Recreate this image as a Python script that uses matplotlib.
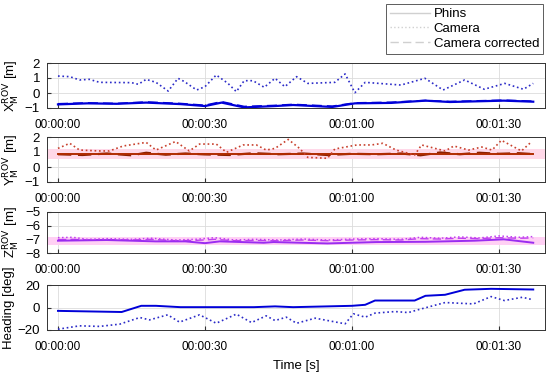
import numpy as np
import matplotlib
matplotlib.use('Agg')
import matplotlib.pyplot as plt
from matplotlib.ticker import FuncFormatter
from matplotlib.lines import Line2D

plt.rcParams['font.family'] = ['Liberation Sans', 'DejaVu Sans']
plt.rcParams['font.size'] = 9

# --- X panel ---
x_phins_t = [0, 6, 12, 18, 25, 30, 33.4, 38, 44.3, 48, 56, 60.6, 68, 75, 80, 91, 97]
x_phins_v = [-0.76, -0.69, -0.72, -0.64, -0.74, -0.87, -0.64, -0.96, -0.87, -0.8, -0.93, -0.69, -0.66, -0.51, -0.6, -0.51, -0.58]
x_cam_t = [0, 2.4, 4.4, 6.4, 8.5, 15, 16.4, 18, 20, 22.5, 24.5, 25.8, 28.3, 30, 32.3, 34.7, 36.4, 38,
           39.8, 42.1, 44.3, 46.3, 48.7, 51, 56.5, 58.6, 60.6, 62.7, 70, 74.9, 78.6, 83, 87, 91.2, 95, 97]
x_cam_v = [1.13, 1.09, 0.87, 0.91, 0.71, 0.69, 0.58, 0.91, 0.71, 0.13, 0.98, 0.76, 0.2, 0.42, 1.2, 0.64, 0.09, 0.82,
           0.82, 0.38, 0.98, 0.42, 1.09, 0.64, 0.71, 1.27, 0.02, 0.71, 0.53, 0.98, 0.2, 0.87, 0.25, 0.64, 0.25, 0.64]
x_corr_v = [-0.72, -0.66, -0.7, -0.6, -0.7, -0.82, -0.58, -0.9, -0.83, -0.76, -0.88, -0.66, -0.62, -0.5, -0.57, -0.48, -0.55]

# --- Y panel ---
y_phins_t = [0, 20, 40, 60, 80, 97]
y_phins_v = [0.87, 0.87, 0.87, 0.87, 0.87, 0.87]
y_cam_t = [0, 2.4, 4.4, 8.5, 10.5, 13.3, 18, 20, 24, 26.8, 28.9, 32.3, 34.4, 37.8, 40.5, 42.5, 44.3, 47,
           49.3, 51, 55, 56.5, 61, 64, 66.3, 69, 72.8, 74.2, 79, 80.8, 83.8, 86.5, 88.6, 90.5, 94.6, 96.7]
y_cam_v = [1.24, 1.58, 1.13, 1.07, 1.07, 1.4, 1.64, 1.13, 1.7, 1.07, 1.53, 1.53, 0.98, 1.47, 1.47, 1.13, 1.24, 1.84,
           1.24, 0.64, 0.58, 1.2, 1.47, 1.47, 1.58, 1.13, 0.8, 1.47, 1.07, 1.4, 1.13, 1.33, 1.13, 1.78, 1.07, 1.7]
y_corr_t = [0, 5, 10, 15, 18, 22, 26, 30, 35, 40, 45, 50, 55, 60, 65, 70, 74, 78, 82, 86, 90, 94, 97]
y_corr_v = [0.85, 0.8, 0.9, 0.78, 0.95, 0.82, 0.9, 0.84, 0.8, 0.92, 0.85, 0.9, 0.8, 0.88, 0.85, 0.9, 0.78, 0.97, 0.85, 0.95, 0.88, 0.92, 0.86]
y_band = [0.55, 1.18]

# --- Z panel ---
z_phins_t = [0, 10, 20, 26, 30, 33, 42, 44, 55, 65, 75, 85, 91, 97]
z_phins_v = [-7.1, -7.05, -7.15, -7.15, -7.28, -7.15, -7.25, -7.2, -7.3, -7.2, -7.18, -7.1, -7.0, -7.25]
z_cam_t = [0, 3, 6, 10, 15, 19, 24, 28, 32, 36, 40, 45, 50, 55, 60, 65, 70, 74, 78, 82, 86, 90, 94, 97]
z_cam_v = [-6.88, -6.85, -7.0, -6.95, -7.0, -6.92, -7.05, -7.0, -6.88, -7.05, -7.0, -7.05, -6.98, -7.05, -6.98, -6.95, -7.0, -6.85, -6.92, -6.82, -6.9, -6.75, -6.85, -6.8]
z_corr_v = [-7.02, -7.0, -7.05, -7.02, -7.05, -7.0, -7.1, -7.08, -7.0, -7.1, -7.08, -7.1, -7.05, -7.1, -7.05, -7.02, -7.05, -6.95, -6.98, -6.92, -6.95, -6.88, -6.92, -6.9]
z_band = [-7.38, -6.85]

# --- Heading panel ---
h_phins_t = [0, 13, 17, 20, 25, 30, 40, 44.3, 48, 60, 62.7, 64.7, 72.8, 75, 79, 83, 88.4, 97]
h_phins_v = [-3, -4, 1.5, 1.5, 0.3, 0.3, 0.3, 1, 0.3, 1.5, 2.4, 6.2, 6.2, 10.4, 11.3, 15.8, 16.6, 16]
h_cam_t = [0, 4.4, 8.5, 12.6, 16.7, 18.7, 22.4, 24.8, 28.9, 32.3, 36.4, 39.5, 42.5, 44.3, 46.6, 48.7, 52.5,
           58.6, 60.3, 62.7, 64.7, 68.8, 71.5, 73.5, 79, 84.8, 88.4, 91.1, 94.8, 97]
h_cam_v = [-19.3, -16.3, -16.8, -14.8, -8.9, -11, -6.5, -13, -6.5, -14, -5.9, -13.4, -7.4, -11.6, -8.6, -14, -9.5,
           -14.5, -5.6, -8.6, -5, -3.6, -4.5, -2, 4.4, 3.2, 9.7, 6.2, 9.1, 6.8]

tick_times = [0, 30, 60, 90]


def hms(v, pos):
    s = int(round(v))
    return '%02d:%02d:%02d' % (s // 3600, (s % 3600) // 60, s % 60)


fig = plt.figure(figsize=(5.5, 3.73), dpi=100)
W = 550.0
H = 373.0
left = 47 / W
width = 498 / W
panels = [(63, 108), (137, 182), (212, 253), (285, 330)]
axes = []
for top, bot in panels:
    ax = fig.add_axes([left, 1 - bot / H, width, (bot - top) / H])
    axes.append(ax)

blue = '#0000d8'
blue_dot = '#2b2bc8'
red = '#b02c00'
red_dot = '#c8402c'
purple = '#9a2cf0'
purple_dot = '#c040f0'

ax = axes[0]
ax.plot(x_phins_t, x_phins_v, color=blue, lw=1.6)
ax.plot(x_phins_t, x_corr_v, color=blue, lw=1.2, ls=(0, (6, 3)))
ax.plot(x_cam_t, x_cam_v, color=blue_dot, lw=1.2, ls=':')
ax.set_ylim(-1, 2)
ax.set_yticks([-1, 0, 1, 2])
ax.set_ylabel('X$_{\\rm M}^{\\rm ROV}$ [m]')

ax = axes[1]
ax.axhspan(y_band[0], y_band[1], color='#ffd8e8', lw=0, xmin=0.0, xmax=1.0)
ax.plot(y_corr_t, y_corr_v, color='#8b2000', lw=1.6, ls=(0, (6, 3)))
ax.plot(y_phins_t, y_phins_v, color=red, lw=1.4)
ax.plot(y_cam_t, y_cam_v, color=red_dot, lw=1.2, ls=':')
ax.set_ylim(-1, 2)
ax.set_yticks([-1, 0, 1, 2])
ax.set_ylabel('Y$_{\\rm M}^{\\rm ROV}$ [m]')

ax = axes[2]
ax.axhspan(z_band[0], z_band[1], color='#ffd0f4', lw=0)
ax.plot(z_cam_t, z_corr_v, color=purple_dot, lw=1.0, ls=(0, (6, 3)))
ax.plot(z_phins_t, z_phins_v, color=purple, lw=1.4)
ax.plot(z_cam_t, z_cam_v, color=purple_dot, lw=1.1, ls=':')
ax.set_ylim(-8, -5)
ax.set_yticks([-8, -7, -6, -5])
ax.set_ylabel('Z$_{\\rm M}^{\\rm ROV}$ [m]')

ax = axes[3]
ax.plot(h_phins_t, h_phins_v, color=blue, lw=1.4)
ax.plot(h_cam_t, h_cam_v, color=blue_dot, lw=1.2, ls=':')
ax.set_ylim(-20, 20)
ax.set_yticks([-20, 0, 20])
ax.set_ylabel('Heading [deg]')
ax.set_xlabel('Time [s]', labelpad=5, fontsize=9.5)

for ax in axes:
    ax.set_xlim(-2.24, 99.4)
    ax.set_xticks(tick_times)
    ax.xaxis.set_major_formatter(FuncFormatter(hms))
    ax.grid(True, color='#dcdcdc', lw=0.6)
    ax.set_axisbelow(True)
    ax.tick_params(direction='in', length=3, labelsize=8.5, color='#333333')
    ax.tick_params(axis='x', pad=8)
    ax.tick_params(axis='y', pad=5, labelsize=9.5)
    for sp in ax.spines.values():
        sp.set_color('#333333')
        sp.set_linewidth(0.7)
    ax.yaxis.label.set_size(9.5)
    ax.yaxis.labelpad = 2

handles = [Line2D([], [], color='#d0d0d0', lw=1.0, ls='-'),
           Line2D([], [], color='#d0d0d0', lw=1.0, ls=':'),
           Line2D([], [], color='#d0d0d0', lw=1.0, ls=(0, (6, 3)))]
leg = fig.legend(handles, ['Phins', 'Camera', 'Camera corrected'], loc='upper right',
                 bbox_to_anchor=(543 / W, 1 - 4 / H), frameon=True, fancybox=False,
                 fontsize=9.5, handlelength=3.0, borderpad=0.3, labelspacing=0.2,
                 handletextpad=0.3, borderaxespad=0)
leg.get_frame().set_edgecolor('#333333')
leg.get_frame().set_linewidth(0.7)

fig.savefig('out.png', dpi=100)
